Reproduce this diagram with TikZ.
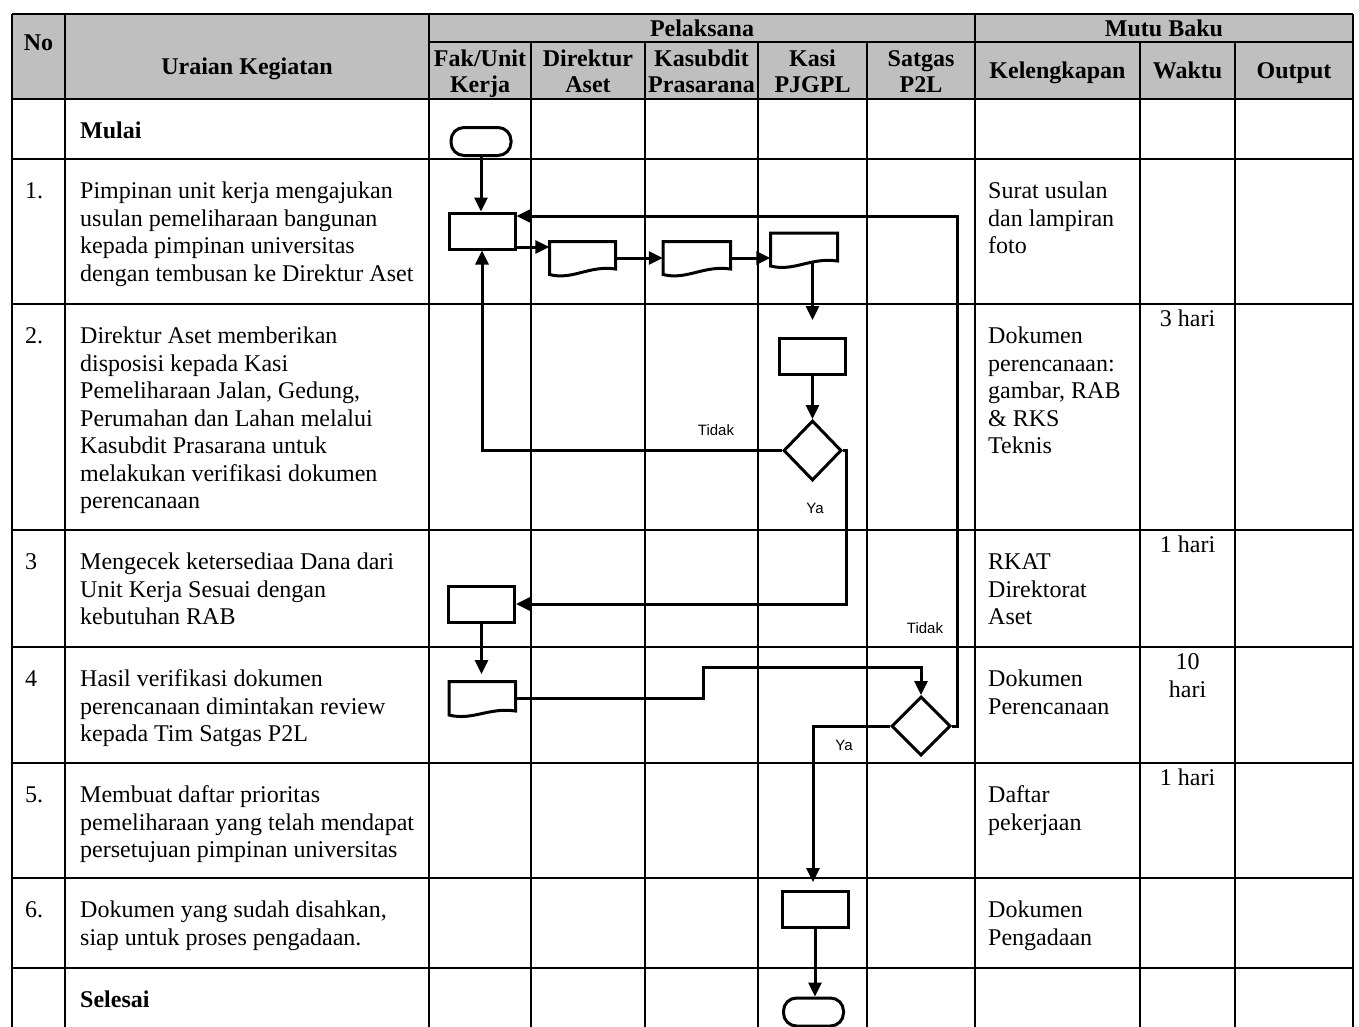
\documentclass[tikz,border=0pt]{standalone}
\usepackage{fontspec}
\setmainfont{Liberation Serif}
\newfontfamily\lblfont{Liberation Sans}
\usetikzlibrary{arrows.meta,shapes.geometric,fit}
\begin{document}
\begin{tikzpicture}[x=1pt,y=-1pt,
 tbl/.style={line width=2pt},
 shp/.style={draw,line width=3pt,fill=white,inner sep=0pt},
 procbox/.style={shp,rectangle,minimum width=66pt,minimum height=36pt},
 term/.style={shp,rectangle,rounded corners=13pt,minimum width=60pt,minimum height=28pt},
 decis/.style={shp,diamond,minimum width=58pt,minimum height=60pt},
 docfit/.style={inner sep=0pt},
 conn/.style={line width=3pt,-{Triangle[length=14pt,width=13pt]}},
 body/.style={font=\fontsize{24}{27.5}\selectfont,inner sep=0pt,align=left,anchor=base west},
 bodyb/.style={body,font=\bfseries\fontsize{24}{27.5}\selectfont},
 wkt/.style={font=\fontsize{24}{28}\selectfont,inner sep=0pt,align=center,anchor=base},
 hdr/.style={font=\bfseries\fontsize{24}{26.7}\selectfont,inner sep=0pt,align=center,anchor=base},
 lbl/.style={font=\lblfont\fontsize{15}{18}\selectfont,inner sep=0pt}
]
\useasboundingbox (0,0) rectangle (1359,1026);
\clip (0,0) rectangle (1359,1026);
% ---------- table ----------
\fill[black!25] (12,14) rectangle (1353,99);
\foreach \y in {14,99,159,304,530,647,763,878,968}
  \draw[tbl] (12,\y) -- (1353,\y);
\draw[tbl] (429,42) -- (1353,42);
\foreach \x in {12,65,429,975,1353}
  \draw[tbl] (\x,14) -- (\x,1030);
\foreach \x in {531,645,758,867,1140,1235}
  \draw[tbl] (\x,42) -- (\x,1030);
% ---------- header (base anchor = baseline of last line) ----------
\node[hdr] (hNo) at (38.5,50.5) {No};
\node[hdr] (hUr) at (247,74) {Uraian Kegiatan};
\node[hdr] (hPel) at (702,36) {Pelaksana};
\node[hdr] (hMutu) at (1164,36) {Mutu Baku};
\node[hdr] (hFak) at (480,92.7) {Fak/Unit\\Kerja};
\node[hdr] (hDir) at (588,92.7) {Direktur\\Aset};
\node[hdr] (hKsb) at (701.5,92.7) {Kasubdit\\Prasarana};
\node[hdr] (hKasi) at (812.5,92.7) {Kasi\\PJGPL};
\node[hdr] (hSat) at (921,92.7) {Satgas\\P2L};
\node[hdr] (hKel) at (1057.5,78) {Kelengkapan};
\node[hdr] (hWak) at (1187.5,78) {Waktu};
\node[hdr] (hOut) at (1294,78) {Output};
% ---------- body text ----------
\node[bodyb] (tMulai) at (80,138.5) {Mulai};
\node[body] (n1) at (25,198.5) {1.};
\node[body] (t1) at (80,281) {Pimpinan unit kerja mengajukan\\usulan pemeliharaan bangunan\\kepada pimpinan universitas\\dengan tembusan ke Direktur Aset};
\node[body] (k1) at (988,253.5) {Surat usulan\\dan lampiran\\foto};
\node[body] (n2) at (25,343.5) {2.};
\node[body] (t2) at (80,508.5) {Direktur Aset memberikan\\disposisi kepada Kasi\\Pemeliharaan Jalan, Gedung,\\Perumahan dan Lahan melalui\\Kasubdit Prasarana untuk\\melakukan verifikasi dokumen\\perencanaan};
\node[body] (k2) at (988,453.5) {Dokumen\\perencanaan:\\gambar, RAB\\\& RKS\\Teknis};
\node[wkt] (w2) at (1187.5,326) {3 hari};
\node[body] (n3) at (25,569.5) {3};
\node[body] (t3) at (80,624.5) {Mengecek ketersediaa Dana dari\\Unit Kerja Sesuai dengan\\kebutuhan RAB};
\node[body] (k3) at (988,624.5) {RKAT\\Direktorat\\Aset};
\node[wkt] (w3) at (1187.5,552) {1 hari};
\node[body] (n4) at (25,686.5) {4};
\node[body] (t4) at (80,741.5) {Hasil verifikasi dokumen\\perencanaan dimintakan review\\kepada Tim Satgas P2L};
\node[body] (k4) at (988,714) {Dokumen\\Perencanaan};
\node[wkt] (w4) at (1187.5,697) {10\\hari};
\node[body] (n5) at (25,802.5) {5.};
\node[body] (t5) at (80,857.5) {Membuat daftar prioritas\\pemeliharaan yang telah mendapat\\persetujuan pimpinan universitas};
\node[body] (k5) at (988,830) {Daftar\\pekerjaan};
\node[wkt] (w5) at (1187.5,785) {1 hari};
\node[body] (n6) at (25,917.5) {6.};
\node[body] (t6) at (80,945) {Dokumen yang sudah disahkan,\\siap untuk proses pengadaan.};
\node[body] (k6) at (988,945) {Dokumen\\Pengadaan};
\node[bodyb] (tSel) at (80,1007.5) {Selesai};
% ---------- flow shapes ----------
\node[term] (start) at (481,141.5) {};
\node[procbox] (box1) at (482,231) {};
\draw[shp] (549.5,274.5) -- (549.5,241.5) -- (615.5,241.5) -- (615.5,269)
  .. controls (589.1,265) and (572.6,280.5) .. (549.5,274.5) -- cycle;
\node[docfit,fit={(549.5,241.5) (615.5,274.5)}] (doc1) {};
\draw[shp] (663,274.5) -- (663,241.5) -- (730.5,241.5) -- (730.5,269)
  .. controls (703.5,265) and (686.6,280.5) .. (663,274.5) -- cycle;
\node[docfit,fit={(663,241.5) (730.5,274.5)}] (doc2) {};
\draw[shp] (770.5,266) -- (770.5,233) -- (837.5,233) -- (837.5,261)
  .. controls (810.7,257) and (794,272) .. (770.5,266) -- cycle;
\node[docfit,fit={(770.5,233) (837.5,266)}] (doc3) {};
\node[procbox] (box2) at (812.5,356.5) {};
\node[decis] (d1) at (812.5,450.5) {};
\node[procbox] (box3) at (481.5,604) {};
\draw[shp] (449,715) -- (449,681.5) -- (515.5,681.5) -- (515.5,711)
  .. controls (488.9,707) and (472.3,721) .. (449,715) -- cycle;
\node[docfit,fit={(449,681.5) (515.5,715)}] (doc4) {};
\node[decis,minimum width=59pt,minimum height=59pt] (d2) at (921,726) {};
\node[procbox] (box6) at (815,909.5) {};
\node[term] (endt) at (813.5,1012) {};
% ---------- connector coordinates ----------
\coordinate (d3b) at (812.5,262);
\coordinate (p320) at (812.5,320);
\coordinate (p674) at (481.5,674);
\coordinate (jog) at (703,667);
\coordinate (ret) at (957,216);
\coordinate (p882) at (813,882);
% ---------- connectors ----------
\draw[conn] (start.south) -- (start.south |- box1.north);
\draw[conn] ([yshift=-16pt]box1.east) -- ([yshift=-16pt]box1.east -| doc1.west);
\draw[conn] (doc1.east) -- (doc1.east -| doc2.west);
\draw[conn] (doc2.east) -- (doc2.east -| doc3.west);
\draw[conn] (d3b) -- (p320);
\draw[conn] (box2.south) -- (d1.north);
\draw[conn] (d1.west) -| (box1.south);
\draw[conn] (d1.east) -- ++(3,0) |- (box3.east);
\draw[conn] (box3.south) -- (p674);
\draw[conn] (doc4.east) -| (jog) -| (d2.north);
\draw[conn] (d2.east) -| (ret) -- (ret -| box1.east);
\draw[conn] (d2.west) -| (p882);
\draw[conn] (box6.south) -- (box6.south |- endt.north);
% ---------- labels ----------
\node[lbl] (lT1) at (716,430) {Tidak};
\node[lbl] (lY1) at (815,508) {Ya};
\node[lbl] (lT2) at (925,628) {Tidak};
\node[lbl] (lY2) at (844,745) {Ya};
\end{tikzpicture}
\end{document}
